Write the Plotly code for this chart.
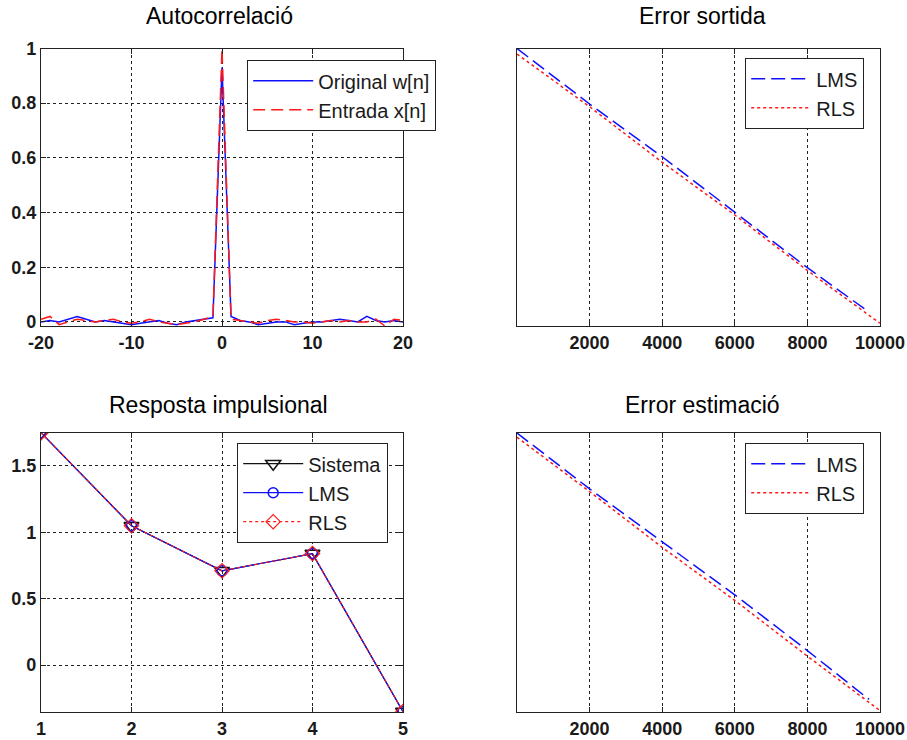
import plotly.graph_objects as go

# ---------------- data ----------------
lags = list(range(-20, 21))
w_autocorr = [0.0, 0.005, 0.0, 0.01, 0.02, 0.01, 0.0, 0.005, 0.0, -0.005,
              -0.01, -0.005, 0.0, 0.005, -0.005, -0.01, 0.0, 0.005, 0.01, 0.015,
              0.93,
              0.02, 0.005, 0.0, -0.01, -0.005, 0.0, 0.0, -0.01, -0.005, 0.0,
              0.0, 0.005, 0.01, 0.005, 0.0, 0.02, 0.005, 0.0, 0.005, 0.0]
x_autocorr = [0.01, 0.02, -0.01, 0.0, 0.01, 0.005, 0.0, 0.005, 0.01, 0.0,
              -0.005, 0.0, 0.01, 0.0, -0.005, -0.01, -0.005, 0.0, 0.01, 0.02,
              1.0,
              0.01, 0.005, 0.0, -0.005, 0.005, 0.01, 0.005, 0.0, 0.0, -0.005,
              0.0, 0.005, 0.0, 0.005, 0.0, 0.0, 0.01, -0.015, 0.01, 0.005]
lag_ticks = [-20, -10, 0, 10, 20]
lag_ticktext = ["-20", "-10", "0", "10", "20"]

iters_lms = [0, 2000, 4000, 6000, 8000, 9700]
iters_rls = [0, 2000, 4000, 6000, 8000, 10000]
err_out_lms = [1.0, 0.80, 0.61, 0.41, 0.21, 0.05]
err_out_rls = [0.98, 0.79, 0.59, 0.40, 0.20, 0.01]
err_est_lms = [1.0, 0.80, 0.61, 0.42, 0.22, 0.045]
err_est_rls = [0.985, 0.79, 0.59, 0.40, 0.20, 0.005]
iter_ticks = [2000, 4000, 6000, 8000, 10000]
iter_ticktext = ["2000", "4000", "6000", "8000", "10000"]

taps = [1, 2, 3, 4, 5]
h_sistema = [1.75, 1.05, 0.71, 0.84, -0.35]
h_lms = [1.75, 1.05, 0.71, 0.84, -0.35]
h_rls = [1.75, 1.05, 0.71, 0.84, -0.35]

titles = ["Autocorrelació", "Error sortida", "Resposta impulsional", "Error estimació"]

# ---------------- figure ----------------
W, H = 907, 740
FONT = "Liberation Sans, Arial, Helvetica, sans-serif"
tickfont = dict(family=FONT, size=18, color="#1a1a1a", weight="bold")
BLUE = "#1010ff"
RED = "#ff1a1a"

fig = go.Figure()

# Autocorrelation
fig.add_trace(go.Scatter(x=lags, y=w_autocorr, mode="lines", name="Original w[n]",
                         line=dict(color=BLUE, width=1.5), xaxis="x", yaxis="y", legend="legend"))
fig.add_trace(go.Scatter(x=lags, y=x_autocorr, mode="lines", name="Entrada x[n]",
                         line=dict(color=RED, width=1.5, dash="12px,6px"), xaxis="x", yaxis="y", legend="legend"))

# Error sortida
fig.add_trace(go.Scatter(x=iters_lms, y=err_out_lms, mode="lines", name="LMS",
                         line=dict(color=BLUE, width=1.5, dash="14px,6px"), xaxis="x2", yaxis="y2", legend="legend2"))
fig.add_trace(go.Scatter(x=iters_rls, y=err_out_rls, mode="lines", name="RLS",
                         line=dict(color=RED, width=1.5, dash="3px,3px"), xaxis="x2", yaxis="y2", legend="legend2"))

# Resposta impulsional
fig.add_trace(go.Scatter(x=taps, y=h_sistema, mode="lines+markers", name="Sistema",
                         line=dict(color="#111111", width=1.2),
                         marker=dict(symbol="triangle-down-open", size=13, color="#111111", line=dict(width=1.5)),
                         xaxis="x3", yaxis="y3", legend="legend3"))
fig.add_trace(go.Scatter(x=taps, y=h_lms, mode="lines+markers", name="LMS",
                         line=dict(color=BLUE, width=1.2),
                         marker=dict(symbol="circle-open", size=10, color=BLUE, line=dict(width=1.5)),
                         xaxis="x3", yaxis="y3", legend="legend3"))
fig.add_trace(go.Scatter(x=taps, y=h_rls, mode="lines+markers", name="RLS",
                         line=dict(color=RED, width=1.2, dash="3px,3px"),
                         marker=dict(symbol="diamond-open", size=11, color=RED, line=dict(width=1.2)),
                         xaxis="x3", yaxis="y3", legend="legend3"))

# Error estimació
fig.add_trace(go.Scatter(x=iters_lms, y=err_est_lms, mode="lines", name="LMS",
                         line=dict(color=BLUE, width=1.5, dash="14px,6px"), xaxis="x4", yaxis="y4", legend="legend4"))
fig.add_trace(go.Scatter(x=iters_rls, y=err_est_rls, mode="lines", name="RLS",
                         line=dict(color=RED, width=1.5, dash="3px,3px"), xaxis="x4", yaxis="y4", legend="legend4"))

# domains (paper fractions from pixel positions)
xl = [41 / W, 403 / W]
xr = [517 / W, 880 / W]
yt = [1 - 326 / H, 1 - 48.5 / H]
yb = [1 - 712 / H, 1 - 433 / H]

def ax(domain, anchor, **kw):
    d = dict(domain=domain, anchor=anchor, automargin=False, showline=True,
             linecolor="#222222", linewidth=1.2,
             mirror="ticks", ticks="inside", ticklen=5, tickcolor="#222222",
             showgrid=True, gridcolor="#222222", gridwidth=1, griddash="3px,3px",
             zeroline=False, tickfont=tickfont)
    d.update(kw)
    return d

layout = dict(
    template="none",
    width=W, height=H, margin=dict(l=0, r=0, t=0, b=0, pad=0),
    paper_bgcolor="white", plot_bgcolor="white",
    font=dict(family=FONT, color="black"),
    xaxis=ax(xl, "y", range=[-20, 20], tickvals=lag_ticks, ticktext=lag_ticktext),
    yaxis=ax(yt, "x", range=[-0.015, 1], tickvals=[0, 0.2, 0.4, 0.6, 0.8, 1],
             ticktext=["0", "0.2", "0.4", "0.6", "0.8", "1"]),
    xaxis2=ax(xr, "y2", range=[0, 10000], tickvals=iter_ticks, ticktext=iter_ticktext),
    yaxis2=ax(yt, "x2", range=[0, 1], showgrid=False, showticklabels=False, ticks=""),
    xaxis3=ax(xl, "y3", range=[1, 5], tickvals=[1, 2, 3, 4, 5]),
    yaxis3=ax(yb, "x3", range=[-0.353, 1.748], tickvals=[0, 0.5, 1, 1.5],
              ticktext=["0", "0.5", "1", "1.5"]),
    xaxis4=ax(xr, "y4", range=[0, 10000], tickvals=iter_ticks, ticktext=iter_ticktext),
    yaxis4=ax(yb, "x4", range=[0, 1], showgrid=False, showticklabels=False, ticks=""),
)

legfont = dict(family=FONT, size=20, color="#1a1a1a")
def leg(x, y):
    return dict(x=x, y=y, xanchor="left", yanchor="top", bgcolor="white",
                bordercolor="#222222", borderwidth=1.2, font=legfont, itemclick=False,
                itemwidth=60)

layout["legend"] = leg(247 / W, 1 - 60 / H)
layout["legend2"] = leg(745 / W, 1 - 58 / H)
layout["legend3"] = leg(237 / W, 1 - 443 / H)
layout["legend4"] = leg(745 / W, 1 - 443 / H)

title_pos = [(219, 16), (702, 16), (218, 405), (702, 405)]
annotations = []
for t, (px, py) in zip(titles, title_pos):
    annotations.append(dict(text=t, x=px / W, y=1 - py / H, xref="paper", yref="paper",
                            xanchor="center", yanchor="middle", showarrow=False,
                            font=dict(family=FONT, size=23, color="black")))
layout["annotations"] = annotations

fig.update_layout(**layout)
fig.write_html("out.html")
